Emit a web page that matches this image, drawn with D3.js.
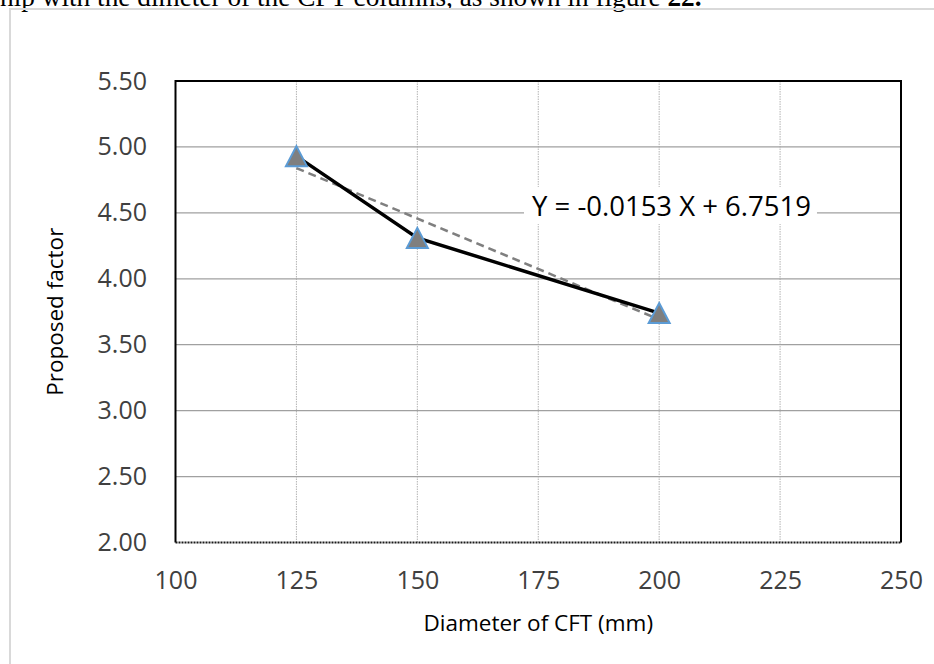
<!DOCTYPE html>
<html><head><meta charset="utf-8">
<script src="https://cdn.jsdelivr.net/npm/d3@7/dist/d3.min.js"></script>
<style>
html,body{margin:0;padding:0;background:#fff;overflow:hidden;}
svg{display:block;}
</style></head>
<body>
<script>
// ---- data ----
const diameters = [125, 150, 200];
const factors = [4.93, 4.31, 3.74];
const xTicks = [100, 125, 150, 175, 200, 225, 250];
const yTicks = [2.00, 2.50, 3.00, 3.50, 4.00, 4.50, 5.00, 5.50];
const trendSlope = -0.0153;
const trendIntercept = 6.7519;
const trendLabel = "Y = -0.0153 X + 6.7519";
const xTitle = "Diameter of CFT (mm)";
const yTitle = "Proposed factor";
const captionPre = "hip with the dimeter of the CFT columns, as shown in figure ";
const captionBold = "22.";

const W = 934, H = 664;
const L = 175.5, R = 901, T = 81, B = 542.5;

const svg = d3.select("body").append("svg").attr("width", W).attr("height", H);

// caption text (cut off at top, as in the source page)
const cap = svg.append("text").attr("x", 0).attr("y", 6)
  .attr("font-family", "'Liberation Serif','Times New Roman',serif").attr("font-size", 27.3).attr("fill", "#000");
cap.append("tspan").text(captionPre);
cap.append("tspan").attr("font-weight", "bold").text(captionBold);

// outer chart frame
svg.append("path").attr("d", `M10,${H+2} L10,9 L${W+2},9`).attr("fill", "none")
  .attr("stroke", "#d9d9d9").attr("stroke-width", 2);

const x = d3.scaleLinear().domain([100, 250]).range([L, R]);
const y = d3.scaleLinear().domain([2, 5.5]).range([B, T]);

// vertical dotted grid
svg.append("g").selectAll("line").data(xTicks.filter(t => t > 100 && t < 250)).join("line")
  .attr("x1", d => x(d)).attr("x2", d => x(d)).attr("y1", T).attr("y2", B)
  .attr("stroke", "#b4b4b4").attr("stroke-width", 1).attr("stroke-dasharray", "1.5,1");

// horizontal grid
svg.append("g").selectAll("line").data(yTicks.filter(t => t > 2 && t < 5.5)).join("line")
  .attr("x1", L).attr("x2", R).attr("y1", d => y(d)).attr("y2", d => y(d))
  .attr("stroke", "#a0a0a0").attr("stroke-width", 1.2);

// plot border
svg.append("path").attr("d", `M${L},${B} L${L},${T} L${R},${T} L${R},${B}`)
  .attr("fill", "none").attr("stroke", "#000").attr("stroke-width", 2);
svg.append("line").attr("x1", L).attr("x2", R).attr("y1", B).attr("y2", B)
  .attr("stroke", "#1a1a1a").attr("stroke-width", 2).attr("stroke-dasharray", "2,1");

// axes tick labels via d3 axes
const yAxis = d3.axisLeft(y).tickValues(yTicks).tickFormat(d3.format(".2f")).tickSize(0).tickPadding(L - 147);
const gy = svg.append("g").attr("transform", `translate(${L},0)`).call(yAxis);
gy.select(".domain").remove();
gy.selectAll("text").attr("font-family", "'Open Sans',sans-serif").attr("font-size", 25).attr("fill", "#404040");

const xAxis = d3.axisBottom(x).tickValues(xTicks).tickFormat(d3.format("d")).tickSize(0).tickPadding(0);
const gx = svg.append("g").attr("transform", `translate(0,${B})`).call(xAxis);
gx.select(".domain").remove();
gx.selectAll("text").attr("dy", null).attr("y", 589 - B).attr("font-family", "'Open Sans',sans-serif")
  .attr("font-size", 25).attr("fill", "#404040");

// axis titles
svg.append("text").attr("x", (L + R) / 2).attr("y", 631).attr("text-anchor", "middle")
  .attr("font-family", "'Open Sans',sans-serif").attr("font-size", 22.5).attr("font-weight", 500).attr("fill", "#000")
  .text(xTitle);
svg.append("text").attr("transform", `translate(63,${(T + B) / 2}) rotate(-90)`).attr("text-anchor", "middle")
  .attr("font-family", "'Open Sans',sans-serif").attr("font-size", 22.5).attr("font-weight", 500).attr("fill", "#000")
  .text(yTitle);

// trendline
const x0 = d3.min(diameters), x1 = d3.max(diameters);
svg.append("line").attr("x1", x(x0)).attr("y1", y(trendSlope * x0 + trendIntercept))
  .attr("x2", x(x1)).attr("y2", y(trendSlope * x1 + trendIntercept))
  .attr("stroke", "#7f7f7f").attr("stroke-width", 2.5).attr("stroke-dasharray", "8,5");

// data line
const pts = diameters.map((d, i) => [d, factors[i]]);
svg.append("path").datum(pts)
  .attr("d", d3.line().x(d => x(d[0])).y(d => y(d[1])))
  .attr("fill", "none").attr("stroke", "#000").attr("stroke-width", 3.5);

// markers (triangles, bbox centered on point)
const tw = 21, th = 20;
svg.append("g").selectAll("path").data(pts).join("path")
  .attr("transform", d => `translate(${x(d[0])},${y(d[1])})`)
  .attr("d", `M0,${-th/2} L${tw/2},${th/2} L${-tw/2},${th/2} Z`)
  .attr("fill", "#7f7f7f").attr("stroke", "#5b9bd5").attr("stroke-width", 2).attr("stroke-linejoin", "miter");

// trend label with white background
const lg = svg.append("g");
const lt = lg.append("text").attr("x", 532).attr("y", 216)
  .attr("font-family", "'Open Sans',sans-serif").attr("font-size", 27.5).attr("fill", "#000").text(trendLabel);
const bb = lt.node().getBBox();
lg.insert("rect", "text").attr("x", bb.x - 8).attr("y", bb.y).attr("width", bb.width + 14).attr("height", bb.height)
  .attr("fill", "#fff");
</script>
</body></html>
